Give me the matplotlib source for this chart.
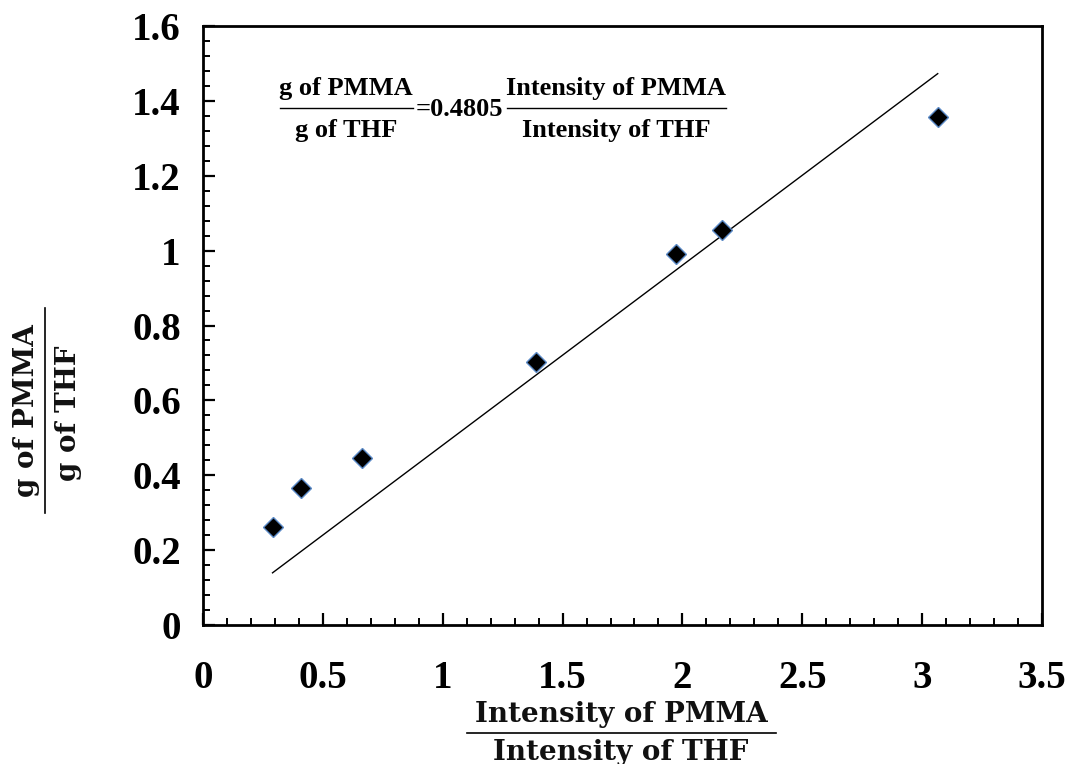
import matplotlib
matplotlib.use("Agg")
import matplotlib.pyplot as plt
from matplotlib.ticker import MultipleLocator, FuncFormatter
from matplotlib.lines import Line2D
import numpy as np

# Intensity ratio (PMMA / THF) and mass ratio (PMMA / THF)
intensity_ratio = [0.29, 0.41, 0.665, 1.39, 1.975, 2.165, 3.065]
mass_ratio = [0.262, 0.366, 0.447, 0.703, 0.991, 1.055, 1.357]
slope = 0.4805

x_ticks = [0, 0.5, 1, 1.5, 2, 2.5, 3, 3.5]
y_ticks = [0, 0.2, 0.4, 0.6, 0.8, 1.0, 1.2, 1.4, 1.6]

plt.rcParams['font.family'] = ['Liberation Serif', 'DejaVu Serif']
plt.rcParams['font.weight'] = 'bold'

W, H = 1069, 764
fig = plt.figure(figsize=(W / 100, H / 100), dpi=100)
ax = fig.add_axes([203 / W, (H - 625) / H, (1042 - 203) / W, (625 - 26) / H])

# fitted proportional line across the data range
fit_x = np.array([min(intensity_ratio), max(intensity_ratio)])
ax.plot(fit_x, slope * fit_x, color='black', lw=1.0, zorder=2)

ax.plot(intensity_ratio, mass_ratio, linestyle='none', marker='D',
        markersize=10.5, markerfacecolor='black', markeredgecolor='#5b8ac6',
        markeredgewidth=1.0, zorder=3)

ax.set_xlim(0, 3.5)
ax.set_ylim(0, 1.6)
ax.set_xticks(x_ticks)
ax.set_yticks(y_ticks)
ax.xaxis.set_minor_locator(MultipleLocator(0.1))
ax.yaxis.set_minor_locator(MultipleLocator(0.04))
fmt = FuncFormatter(lambda v, p: f"{v:g}")
ax.xaxis.set_major_formatter(fmt)
ax.yaxis.set_major_formatter(fmt)

for side in ['left', 'bottom', 'right', 'top']:
    ax.spines[side].set_linewidth(2.0)

ax.tick_params(axis='both', which='major', direction='in', length=8.5, width=1.6,
               labelsize=28)
ax.tick_params(axis='both', which='minor', direction='in', length=5, width=1.4)
ax.tick_params(axis='x', which='major', pad=25)
ax.tick_params(axis='y', which='major', pad=16)
ax.tick_params(top=False, right=False, which='both')
for lab in ax.get_xticklabels() + ax.get_yticklabels():
    lab.set_fontweight('bold')

# helpers for pixel-based figure coordinates
def fx(px):
    return px / W

def fy(py):
    return (H - py) / H

# equation inside the plot area
eq_kw = dict(fontsize=19, fontweight='bold', color='black',
             ha='center', va='center', transform=fig.transFigure)
fig.text(fx(346), fy(88), 'g of PMMA', **eq_kw)
fig.text(fx(346), fy(131), 'g of THF', **eq_kw)
fig.add_artist(Line2D([fx(280), fx(413)], [fy(108), fy(108)],
                      color='black', lw=1.0, transform=fig.transFigure))
fig.text(fx(459), fy(109), '=0.4805', **eq_kw)
fig.text(fx(616), fy(88), 'Intensity of PMMA', **eq_kw)
fig.text(fx(616), fy(131), 'Intensity of THF', **eq_kw)
fig.add_artist(Line2D([fx(507), fx(726)], [fy(108), fy(108)],
                      color='black', lw=1.0, transform=fig.transFigure))

# x-axis label as a fraction
lab_family = ['DejaVu Serif']
xl_kw = dict(fontsize=20, fontweight='bold', color='#111111', family=lab_family,
             ha='center', va='center', transform=fig.transFigure)
fig.text(fx(621), fy(714), 'Intensity of PMMA', **xl_kw)
fig.text(fx(621), fy(752), 'Intensity of THF', **xl_kw)
fig.add_artist(Line2D([fx(467), fx(776)], [fy(733), fy(733)],
                      color='black', lw=1.2, transform=fig.transFigure))

# y-axis label as a rotated fraction
yl_kw = dict(fontsize=20, fontweight='bold', color='#111111', family=lab_family,
             rotation=90, ha='center', va='center', transform=fig.transFigure)
fig.text(fx(27), fy(411), 'g of PMMA', **yl_kw)
fig.text(fx(68), fy(413), 'g of THF', **yl_kw)
fig.add_artist(Line2D([fx(45), fx(45)], [fy(308), fy(513)],
                      color='black', lw=1.2, transform=fig.transFigure))

fig.savefig('out.png', dpi=100, facecolor='white')
